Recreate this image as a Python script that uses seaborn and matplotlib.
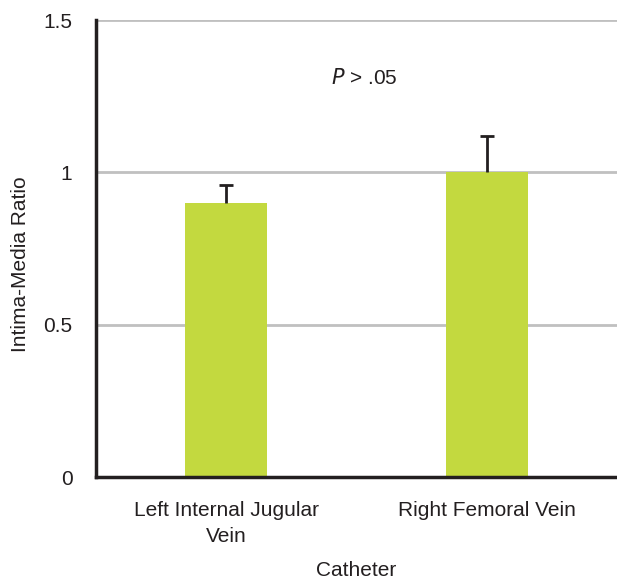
import numpy as np
import pandas as pd
import seaborn as sns
import matplotlib.pyplot as plt

catheters = ['Left Internal Jugular\nVein', 'Right Femoral Vein']
ratio = [0.90, 1.00]
upper_err = [0.06, 0.12]

df = pd.DataFrame({'Catheter': catheters, 'Ratio': ratio})

sns.set_style('white')
plt.rcParams['font.family'] = ['Liberation Sans', 'DejaVu Sans']

fig = plt.figure(figsize=(6.17, 5.82), dpi=100)
ax = fig.add_axes([0.1556, 0.1804, 0.8444, 0.7852])

sns.barplot(data=df, x='Catheter', y='Ratio', color='#c3d93f', saturation=1,
            width=0.315, errorbar=None, linewidth=0, ax=ax, zorder=2)
eb = ax.errorbar(range(len(ratio)), ratio, yerr=[np.zeros(len(ratio)), upper_err],
                 fmt='none', ecolor='#231f20', elinewidth=2, capsize=5, capthick=2, zorder=3)
# only the upper cap is drawn in the original
eb[1][0].set_visible(False)

ax.set_ylim(0, 1.5)
ax.set_xlim(-0.5, 1.5)
ax.set_yticks([0, 0.5, 1, 1.5])
ax.set_yticklabels(['0', '0.5', '1', '1.5'])
ax.yaxis.grid(True, color='#c0c0c0', linewidth=2)
ax.set_axisbelow(True)
for s in ['top', 'right']:
    ax.spines[s].set_visible(False)
for s in ['left', 'bottom']:
    ax.spines[s].set_color('#231f20')
    ax.spines[s].set_linewidth(2.5)
    ax.spines[s].set_zorder(4)
ax.tick_params(axis='both', length=0, labelsize=15, colors='#231f20')
ax.tick_params(axis='y', pad=17)
ax.tick_params(axis='x', pad=17)
for lab in ax.get_xticklabels():
    lab.set_linespacing(1.5)

ax.set_xlabel('Catheter', fontsize=15, color='#231f20')
ax.xaxis.set_label_coords(0.5, -0.183)
ax.set_ylabel('Intima-Media Ratio', fontsize=15, color='#231f20')
ax.yaxis.set_label_coords(-0.127, 0.466)

ax.text(0.53, 1.31, r'$\it{P}$ > .05', ha='center', va='center', fontsize=15, color='#231f20')

plt.savefig('out.png', dpi=100)
